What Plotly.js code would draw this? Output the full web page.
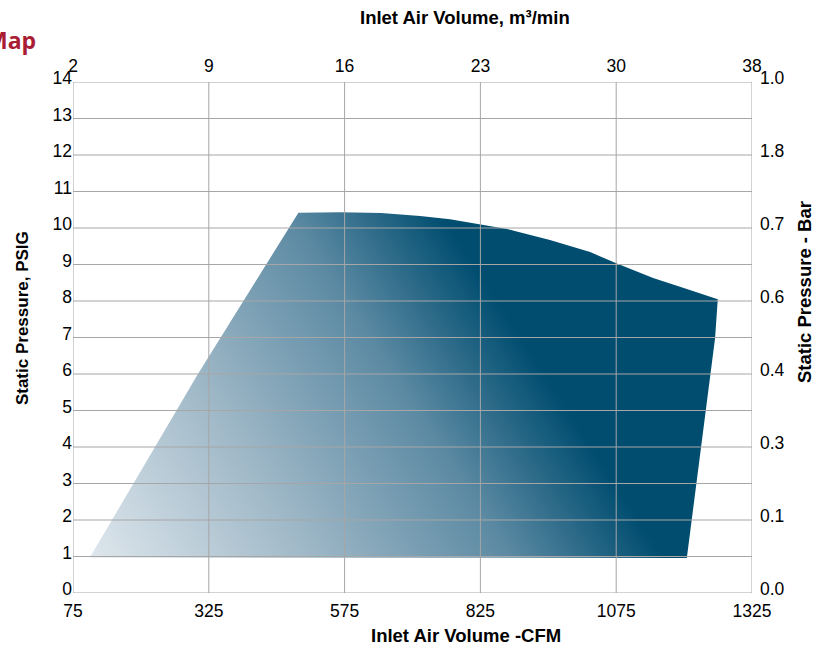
<!DOCTYPE html>
<html>
<head>
<meta charset="utf-8">
<script src="https://cdn.plot.ly/plotly-3.0.1.min.js"></script>
<style>
  html, body { margin: 0; padding: 0; background: #ffffff; }
  #chart { width: 813px; height: 646px; }
</style>
</head>
<body>
<div id="chart"></div>
<script>
// ---- Data ----
// Operating envelope, Inlet Air Volume (CFM) vs Static Pressure (PSIG)
var envelopeCFM  = [106, 305, 490, 567, 642, 714, 769, 822, 874, 953, 1027, 1074, 1143, 1198, 1262, 1257, 1223, 1205, 106];
var envelopePSIG = [0.97, 6.0, 10.42, 10.43, 10.41, 10.33, 10.24, 10.10, 9.97, 9.67, 9.34, 9.04, 8.63, 8.36, 8.05, 6.98, 2.96, 0.96, 0.97];

// Bottom axis (CFM) ticks and matching top axis (m3/min) labels
var cfmTicks      = [75, 325, 575, 825, 1075, 1325];
var m3minLabels   = ['2', '9', '16', '23', '30', '38'];

// Left axis (PSIG) ticks and right axis (Bar) labels
var psigTicks     = [0, 1, 2, 3, 4, 5, 6, 7, 8, 9, 10, 11, 12, 13, 14];
var barTickVals   = [0, 2, 4, 6, 8, 10, 12, 14];
var barLabels     = ['0.0', '0.1', '0.3', '0.4', '0.6', '0.7', '1.8', '1.0'];

// ---- Style ----
var gridColor = '#a6a6a6';
var tickFont  = {family: 'Liberation Sans, Arial, sans-serif', size: 17.5, color: '#000000'};
var titleFontX = {family: 'Liberation Sans, Arial, sans-serif', size: 18.5, color: '#000000'};
var titleFontL = {family: 'Liberation Sans, Arial, sans-serif', size: 17, color: '#000000'};
var titleFontR = {family: 'Liberation Sans, Arial, sans-serif', size: 18.5, color: '#000000'};
var gradScale = [[0, '#e4eaef'], [0.06, '#d8e2e9'], [0.40, '#9fb8c7'], [0.74, '#5c8aa3'], [1, '#004d70']];
var gradFrom  = [88, 0.77];   // light end (data coords)
var gradTo    = [852, 8.11];  // dark end (data coords)

var traces = [
  {
    type: 'scatter',
    x: envelopeCFM,
    y: envelopePSIG,
    mode: 'lines',
    line: {width: 0, color: 'rgba(0,0,0,0)'},
    fill: 'toself',
    fillgradient: {type: 'horizontal', colorscale: gradScale, start: gradFrom[0], stop: gradTo[0]},
    hoverinfo: 'skip',
    showlegend: false
  },
  {
    type: 'scatter',
    x: envelopeCFM,
    y: envelopePSIG,
    xaxis: 'x2',
    yaxis: 'y2',
    mode: 'lines',
    line: {width: 0, color: 'rgba(0,0,0,0)'},
    hoverinfo: 'skip',
    showlegend: false
  }
];

var shapes = [];
cfmTicks.forEach(function (v) {
  shapes.push({type: 'line', xref: 'x', yref: 'paper', x0: v, x1: v, y0: 0, y1: 1,
               line: {color: gridColor, width: 1}, layer: 'above'});
});
psigTicks.forEach(function (v) {
  shapes.push({type: 'line', xref: 'paper', yref: 'y', x0: 0, x1: 1, y0: v, y1: v,
               line: {color: gridColor, width: 1}, layer: 'above'});
});

var axisCommon = {showgrid: false, zeroline: false, showline: false, ticks: '', fixedrange: true, tickfont: tickFont};

var layout = {
  width: 813,
  height: 646,
  margin: {l: 73, r: 61, t: 82, b: 53, pad: 0},
  paper_bgcolor: '#ffffff',
  plot_bgcolor: '#ffffff',
  showlegend: false,
  xaxis: Object.assign({}, axisCommon, {
    range: [75, 1325], tickmode: 'array', tickvals: cfmTicks, ticktext: cfmTicks.map(String),
    ticklabelstandoff: 5
  }),
  xaxis2: Object.assign({}, axisCommon, {
    overlaying: 'x', side: 'top', range: [75, 1325], tickmode: 'array', tickvals: cfmTicks, ticktext: m3minLabels,
    ticklabelstandoff: 6
  }),
  yaxis: Object.assign({}, axisCommon, {
    range: [0, 14], tickmode: 'array', tickvals: psigTicks, ticktext: psigTicks.map(String),
    ticklabelshift: -4
  }),
  yaxis2: Object.assign({}, axisCommon, {
    overlaying: 'y', side: 'right', range: [0, 14], tickmode: 'array', tickvals: barTickVals, ticktext: barLabels,
    ticklabelstandoff: 7, ticklabelshift: -4
  }),
  shapes: shapes,
  annotations: [
    {text: '<b>Map</b>', xref: 'paper', yref: 'paper', x: -0.0516, y: 1.082, xanchor: 'right', yanchor: 'middle',
     showarrow: false, font: {family: 'Open Sans, Liberation Sans, sans-serif', size: 23, color: '#a81c34'}},
    {text: '<b>Inlet Air Volume, m³/min</b>', xref: 'paper', yref: 'paper', x: 0.577, y: 1.127,
     xanchor: 'center', yanchor: 'middle', showarrow: false, font: titleFontX},
    {text: '<b>Inlet Air Volume -CFM</b>', xref: 'paper', yref: 'paper', x: 0.5781, y: -0.0841,
     xanchor: 'center', yanchor: 'middle', showarrow: false, font: titleFontX},
    {text: '<b>Static Pressure, PSIG</b>', xref: 'paper', yref: 'paper', x: -0.0751, y: 0.538,
     xanchor: 'center', yanchor: 'middle', textangle: -90, showarrow: false, font: titleFontL},
    {text: '<b>Static Pressure - Bar</b>', xref: 'paper', yref: 'paper', x: 1.0766, y: 0.589,
     xanchor: 'center', yanchor: 'middle', textangle: -90, showarrow: false, font: titleFontR}
  ]
};

var gd = document.getElementById('chart');
Plotly.newPlot(gd, traces, layout, {displayModeBar: false, staticPlot: true}).then(function () {
  // turn the horizontal fill gradient into the diagonal gradient of the reference
  try {
    var xa = gd._fullLayout.xaxis, ya = gd._fullLayout.yaxis;
    var fillPath = gd.querySelector('.scatterlayer .js-fill');
    var f = fillPath.style.fill || fillPath.getAttribute('style') || '';
    var m = /#([^'"\)\s;]+)/.exec(f);
    if (m) {
      var g = document.getElementById(m[1]);
      if (g && g.tagName.toLowerCase() === 'lineargradient') {
        g.removeAttribute('gradientTransform');
        g.setAttribute('gradientUnits', 'userSpaceOnUse');
        g.setAttribute('x1', xa.l2p(gradFrom[0]));
        g.setAttribute('y1', ya.l2p(gradFrom[1]));
        g.setAttribute('x2', xa.l2p(gradTo[0]));
        g.setAttribute('y2', ya.l2p(gradTo[1]));
      }
    }
  } catch (e) { /* keep horizontal gradient */ }
});
</script>
</body>
</html>
